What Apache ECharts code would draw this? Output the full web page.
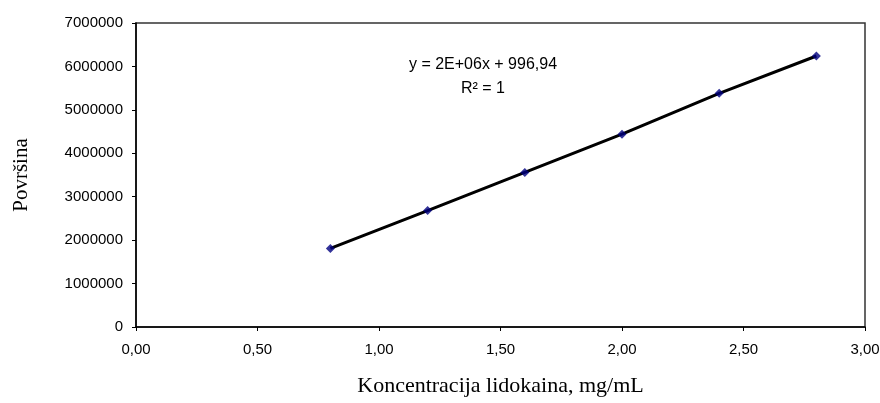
<!DOCTYPE html>
<html><head><meta charset="utf-8">
<script src="https://cdn.jsdelivr.net/npm/echarts@6/dist/echarts.min.js"></script>
<style>html,body{margin:0;padding:0;background:#fff}#c{width:880px;height:403px}</style>
</head><body><div id="c"></div>
<script>
var concentrations = [0.8, 1.2, 1.6, 2.0, 2.4, 2.8];
var areas = [1810000, 2680000, 3560000, 4440000, 5380000, 6240000];
var xTicks = ['0,00','0,50','1,00','1,50','2,00','2,50','3,00'];
var equationText = 'y = 2E+06x + 996,94';
var r2Text = 'R² = 1';

var pts = concentrations.map(function(c,i){return [c, areas[i]];});
var chart = echarts.init(document.getElementById('c'));
chart.setOption({
  animation:false,
  grid:{left:136, top:23, right:15, bottom:76, outerBoundsMode:'none', containLabel:false, show:true, borderColor:'#333', borderWidth:1.5, backgroundColor:'#fff'},
  xAxis:{type:'value', min:0, max:3, interval:0.5,
    name:'Koncentracija lidokaina, mg/mL', nameLocation:'middle', nameGap:48,
    nameTextStyle:{fontFamily:'Liberation Serif', fontSize:22, color:'#000'},
    axisLine:{lineStyle:{color:'#000', width:1.5}},
    axisTick:{show:true, inside:false, length:4, lineStyle:{color:'#000'}},
    axisLabel:{fontFamily:'Liberation Sans', fontSize:15, color:'#000', margin:15,
      formatter:function(v){return xTicks[Math.round(v/0.5)];}},
    splitLine:{show:false}},
  yAxis:{type:'value', min:0, max:7000000, interval:1000000,
    name:'Površina', nameLocation:'middle', nameGap:104, nameRotate:90,
    nameTextStyle:{fontFamily:'Liberation Serif', fontSize:21, color:'#000'},
    axisLine:{lineStyle:{color:'#000', width:1.5}},
    axisTick:{show:true, inside:false, length:4, lineStyle:{color:'#000'}},
    axisLabel:{fontFamily:'Liberation Sans', fontSize:15, color:'#000', margin:13,
      formatter:function(v){return String(v);}},
    splitLine:{show:false}},
  series:[
    {type:'line', data:pts, symbol:'none', lineStyle:{color:'#000', width:3}, z:2},
    {type:'scatter', data:pts, symbol:'diamond', symbolSize:9, itemStyle:{color:'#000080'}, z:3}
  ],
  graphic:[
    {type:'text', x:483, y:65, style:{text:equationText, fontFamily:'Liberation Sans', fontSize:16, fill:'#000', align:'center', verticalAlign:'middle'}},
    {type:'text', x:483, y:89, style:{text:r2Text, fontFamily:'Liberation Sans', fontSize:16, fill:'#000', align:'center', verticalAlign:'middle'}}
  ]
});
</script></body></html>
